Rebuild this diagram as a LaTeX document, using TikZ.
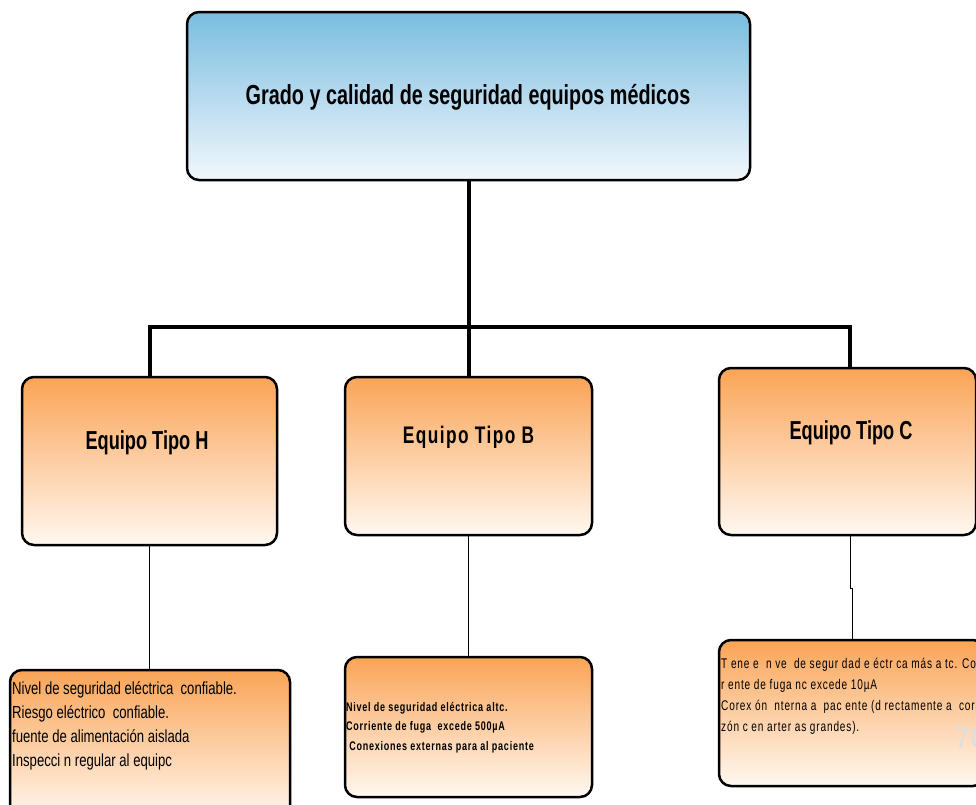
\documentclass[tikz,border=0pt]{standalone}
\usepackage{fontspec}
\setmainfont{Liberation Sans}
\newfontfamily\condsans[FakeStretch=0.72]{Liberation Sans}
\newfontfamily\labelsans[FakeStretch=0.70]{Liberation Sans}
\newfontfamily\textsans[FakeStretch=0.75]{Liberation Sans}
\newfontfamily\spacedsans[FakeStretch=0.72,LetterSpace=6]{Liberation Sans}
\definecolor{blueTop}{HTML}{7ABDE0}
\definecolor{blueBot}{HTML}{F2F7FC}
\definecolor{orangeTop}{HTML}{FAA456}
\definecolor{orangeBot}{HTML}{FFF8F1}
\begin{document}
\begin{tikzpicture}[x=1pt,y=-1pt,
  box/.style={draw=black,line width=2.5pt,rounded corners=12pt,inner sep=0pt},
  bluebox/.style={box,top color=blueTop,bottom color=blueBot},
  orangebox/.style={box,top color=orangeTop,bottom color=orangeBot},
  trunk/.style={line width=4pt},
  twig/.style={line width=0.8pt},
  heading/.style={font=\condsans\bfseries\fontsize{27.5}{30}\selectfont,inner sep=0pt},
  typelabel/.style={font=\labelsans\bfseries\fontsize{26}{30}\selectfont,inner sep=0pt},
  detailtext/.style={align=left,anchor=north west,inner sep=0pt}]
\useasboundingbox (0,0) rectangle (976,804);
\clip (0,0) rectangle (976,804);

% boxes
\node[bluebox,minimum width=563pt,minimum height=168pt] (root) at (468.5,96) {};
\node[orangebox,minimum width=255pt,minimum height=168pt] (htype) at (149.5,461) {};
\node[orangebox,minimum width=247pt,minimum height=158pt] (btype) at (468.5,456) {};
\node[orangebox,minimum width=257pt,minimum height=167pt] (ctype) at (847.5,451.5) {};
\node[orangebox,minimum width=280pt,minimum height=150pt] (hinfo) at (150,745) {};
\node[orangebox,minimum width=247pt,minimum height=140pt] (binfo) at (468.5,727) {};
\node[orangebox,minimum width=266pt,minimum height=146pt] (cinfo) at (852,713) {};

% connectors
\coordinate (bar) at (468.5,327);
\draw[trunk] (root.south) -- (bar);
\draw[trunk] (htype.north) |- (bar) -| ([xshift=2.5pt]ctype.north);
\draw[trunk] (btype.north) -- (bar);
\draw[twig] (htype.south) -- (htype.south |- hinfo.north);
\draw[twig] (btype.south) -- (btype.south |- binfo.north);
\coordinate (jog) at (850,588);
\draw[twig] ([xshift=2.5pt]ctype.south) -- (jog) -- ++(2,0) -- (cinfo.north);

% labels
\node[heading] (ttl) at (468,97) {Grado y calidad de seguridad equipos médicos};
\node[typelabel] (hlbl) at (147,443) {Equipo Tipo H};
\node[typelabel,font=\spacedsans\bfseries\fontsize{24}{30}\selectfont] (blbl) at (468.5,437) {Equipo Tipo B};
\node[typelabel] (clbl) at (851,433) {Equipo Tipo C};

\node[detailtext,font=\textsans\fontsize{17.5}{24}\selectfont] (htxt) at (12,681)
  {Nivel de seguridad eléctrica\ \ confiable.\\
   Riesgo eléctrico\ \ confiable.\\
   fuente de alimentación aislada\\
   Inspecci n regular al equipc};
\node[detailtext,font=\spacedsans\bfseries\fontsize{12.5}{19.5}\selectfont] (btxt) at (346,702)
  {Nivel de seguridad eléctrica altc.\\
   Corriente de fuga\ \ excede 500µA\\
   \ Conexiones externas para al paciente};
\node[detailtext,font=\spacedsans\fontsize{14}{21}\selectfont] (ctxt) at (721,658)
  {T ene e\ \ n ve\ \ de segur dad e éctr ca más a tc. Cor\\
   r ente de fuga nc excede 10µA\\
   Corex ón\ \ nterna a\ \ pac ente (d rectamente a\ \ cora\\
   zón c en arter as grandes).};
\node[anchor=west,inner sep=0pt,text=black!13,font=\fontsize{30}{30}\selectfont] (pgnum) at (954,738) {70};
\end{tikzpicture}
\end{document}
